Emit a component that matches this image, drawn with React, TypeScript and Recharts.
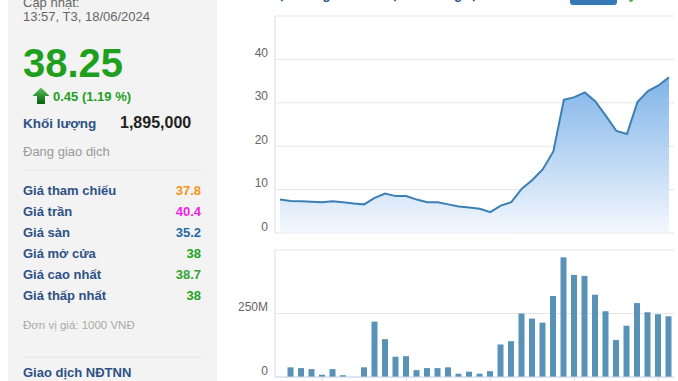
import { Area, AreaChart, Bar, BarChart, CartesianGrid, XAxis, YAxis } from "recharts"

const months = [
    "05/2021", "06/2021", "07/2021", "08/2021", "09/2021", "10/2021", "11/2021", "12/2021",
    "01/2022", "02/2022", "03/2022", "04/2022", "05/2022", "06/2022", "07/2022", "08/2022",
    "09/2022", "10/2022", "11/2022", "12/2022", "01/2023", "02/2023", "03/2023", "04/2023",
    "05/2023", "06/2023", "07/2023", "08/2023", "09/2023", "10/2023", "11/2023", "12/2023",
    "01/2024", "02/2024", "03/2024", "04/2024", "05/2024", "06/2024",
]
const price = [
    7.7, 7.4, 7.3, 7.2, 7.1, 7.3, 7.1, 6.8, 6.6, 8.1, 9.1, 8.5, 8.5, 7.7, 7.1, 7.1, 6.6, 6.1, 5.9,
    5.6, 4.8, 6.3, 7.1, 10.2, 12.2, 14.7, 18.8, 30.7, 31.3, 32.4, 30.3, 27.0, 23.5, 22.8, 30.2, 32.7,
    34.0, 35.9,
]
// khoi luong, trieu co phieu
const volume = [
    0, 38, 35, 31, 9, 31, 7, 0, 38, 218, 149, 80, 82, 27, 35, 35, 38, 13, 21, 13, 23, 128, 141, 250,
    230, 214, 319, 471, 402, 398, 324, 259, 146, 202, 291, 255, 247, 239,
]
const priceTicks = [0, 10, 20, 30, 40, 50]
const volTicks = [0, 250, 500]
const volTickMonths = ["09/2021", "05/2022", "01/2023", "09/2023", "05/2024"]

const infoRows = [
    { label: "Giá tham chiếu", value: "37.8", color: "#f7941d" },
    { label: "Giá trần", value: "40.4", color: "#ee1ee8" },
    { label: "Giá sàn", value: "35.2", color: "#256aa3" },
    { label: "Giá mở cửa", value: "38", color: "#22a322" },
    { label: "Giá cao nhất", value: "38.7", color: "#32a532" },
    { label: "Giá thấp nhất", value: "38", color: "#22a322" },
]

const data = months.map((m, i) => ({ m, price: price[i], vol: volume[i] }))

const FONT = "'Liberation Sans', Arial, sans-serif"
const BLUE = "#2d5185"

const YTick = (props: any) => {
    const { x, y, payload, top } = props
    if (payload.value === top) return <g />
    const label = payload.value === 0 ? "0" : top === 500 ? `${payload.value}M` : `${payload.value}`
    return (
        <text x={x} y={y - 2.5} textAnchor="end" fontSize={12} fill="#666" fontFamily={FONT}>
            {label}
        </text>
    )
}

const XTickMark = (props: any) => {
    const { x, y, payload } = props
    if (!volTickMonths.includes(payload.value)) return <g />
    return <line x1={x} x2={x} y1={y} y2={y + 6} stroke="#ccd6eb" />
}

const InfoPanel = () => (
    <svg width={678} height={381} style={{ position: "absolute", left: 0, top: 0 }} fontFamily={FONT}>
        <defs>
            <linearGradient id="arrowGrad" x1="0" y1="0" x2="0" y2="1">
                <stop offset="0" stopColor="#56c456" />
                <stop offset="1" stopColor="#0b5e0b" />
            </linearGradient>
        </defs>
        <rect x={8} y={0} width={209} height={381} fill="#f3f3f3" />
        <text x={23} y={6.5} fontSize={13} fill="#666">Cập nhật:</text>
        <text x={23} y={21} fontSize={13} fill="#666">13:57, T3, 18/06/2024</text>
        <text x={23} y={76.6} fontSize={40} fontWeight="bold" fill="#1ea01e">38.25</text>
        <polygon
            points="32.5,96 41,87.5 49.5,96 45,96 45,104 37,104 37,96"
            fill="url(#arrowGrad)"
        />
        <text x={53} y={100.7} fontSize={13} fontWeight="bold" fill="#1ea01e">0.45 (1.19 %)</text>
        <text x={23} y={128.3} fontSize={13.5} fontWeight="bold" fill={BLUE}>Khối lượng</text>
        <text x={120} y={128} fontSize={16} fontWeight="bold" fill="#222">1,895,000</text>
        <text x={23} y={156} fontSize={13} fill="#999">Đang giao dịch</text>
        <line x1={23} x2={202} y1={170} y2={170} stroke="#e2e2e2" />
        {infoRows.map((r, i) => (
            <g key={r.label}>
                <text x={23} y={195.3 + 21 * i} fontSize={13} fontWeight="bold" fill={BLUE}>{r.label}</text>
                <text x={201} y={195.3 + 21 * i} fontSize={13} fontWeight="bold" fill={r.color} textAnchor="end">
                    {r.value}
                </text>
            </g>
        ))}
        <text x={23} y={329.3} fontSize={11.5} fill="#aaa">Đơn vị giá: 1000 VNĐ</text>
        <line x1={23} x2={202} y1={357} y2={357} stroke="#e2e2e2" />
        <text x={23} y={377.3} fontSize={13} fontWeight="bold" fill={BLUE}>Giao dịch NĐTNN</text>

        <text x={272} y={-1} fontSize={13} fontWeight="bold" fill={BLUE}>Lịch sử giá  ·  Giao dịch khối ngoại</text>
        <rect x={570} y={-5} width={47} height={10} rx={3} fill="#337ab7" />
        <circle cx={631} cy={0} r={2} fill="#4caf50" />
    </svg>
)

export default function App() {
    return (
        <div style={{ position: "fixed", left: 0, top: 0, width: 678, height: 381, overflow: "hidden", background: "#fff" }}>
            <InfoPanel />
            <div style={{ position: "absolute", left: 230, top: 0 }}>
                <AreaChart width={448} height={240} data={data} margin={{ top: 16, right: 4, bottom: 7, left: 0 }}>
                    <defs>
                        <linearGradient id="priceFill" x1="0" y1="0" x2="0" y2="1">
                            <stop offset="0" stopColor="#80b4e8" />
                            <stop offset="1" stopColor="#f4f8fe" />
                        </linearGradient>
                    </defs>
                    <CartesianGrid vertical={false} stroke="#e6e6e6" />
                    <XAxis dataKey="m" hide padding={{ left: 5, right: 5 }} />
                    <YAxis
                        width={45}
                        domain={[0, 50]}
                        ticks={priceTicks}
                        interval={0}
                        tickSize={0}
                        tickMargin={7}
                        axisLine={{ stroke: "#d8e0ec" }}
                        tickLine={false}
                        tick={<YTick top={50} />}
                    />
                    <Area
                        type="linear"
                        dataKey="price"
                        stroke="#3c7fb4"
                        strokeWidth={2}
                        fill="url(#priceFill)"
                        fillOpacity={1}
                        isAnimationActive={false}
                        dot={false}
                        activeDot={false}
                    />
                </AreaChart>
            </div>
            <div style={{ position: "absolute", left: 230, top: 240 }}>
                <BarChart width={448} height={160} data={data} margin={{ top: 10, right: 4, bottom: 3, left: 0 }}>
                    <CartesianGrid vertical={false} stroke="#e6e6e6" />
                    <XAxis
                        dataKey="m"
                        height={20}
                        interval={0}
                        tickSize={0}
                        tickMargin={0}
                        tickLine={false}
                        axisLine={{ stroke: "#ccd6eb" }}
                        tick={<XTickMark />}
                    />
                    <YAxis
                        width={45}
                        domain={[0, 500]}
                        ticks={volTicks}
                        interval={0}
                        tickSize={0}
                        tickMargin={7}
                        axisLine={{ stroke: "#d8e0ec" }}
                        tickLine={false}
                        tick={<YTick top={500} />}
                    />
                    <Bar dataKey="vol" fill="#5892b6" barSize={6} isAnimationActive={false} />
                </BarChart>
            </div>
        </div>
    )
}
